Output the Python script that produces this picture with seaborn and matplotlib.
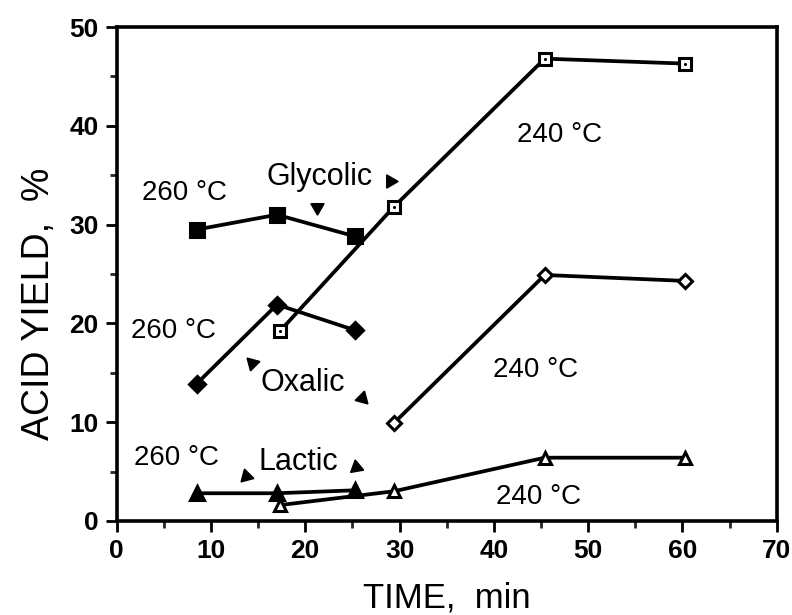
import matplotlib
matplotlib.use("Agg")
import matplotlib.pyplot as plt
import seaborn as sns
import pandas as pd
from matplotlib.ticker import MultipleLocator

# ---- data ----
t260 = [8.5, 17.0, 25.3]
t240 = [17.3, 29.4, 45.4, 60.3]
glycolic_260 = [29.5, 31.0, 28.8]
glycolic_240 = [19.2, 31.8, 46.8, 46.3]
oxalic_260 = [13.9, 21.9, 19.3]
oxalic_240 = [9.9, 24.9, 24.3]
t240_ox = [29.4, 45.4, 60.3]
lactic_260 = [2.8, 2.8, 3.1]
lactic_240 = [1.6, 3.0, 6.4, 6.4]

x_ticks = [0, 10, 20, 30, 40, 50, 60, 70]
y_ticks = [0, 10, 20, 30, 40, 50]

sns.set_theme(style="ticks")
plt.rcParams["font.family"] = ["Liberation Sans", "DejaVu Sans"]

fig = plt.figure(figsize=(7.92, 6.15), dpi=100)
ax = fig.add_axes([0.1473, 0.153, 0.8334, 0.803])

series = [
    (t260, glycolic_260, "s", "black", 10),
    (t240, glycolic_240, "s", "white", 9),
    (t260, oxalic_260, "D", "black", 8.5),
    (t240_ox, oxalic_240, "D", "white", 7),
    (t260, lactic_260, "^", "black", 10),
    (t240, lactic_240, "^", "white", 8.5),
]
for xs, ys, mk, fc, ms in series:
    df = pd.DataFrame({"t": xs, "y": ys})
    sns.lineplot(data=df, x="t", y="y", ax=ax, color="black", linewidth=2.7,
                 marker=mk, markersize=ms, markerfacecolor=fc,
                 markeredgecolor="black", markeredgewidth=2.2, zorder=3)
# small dots inside the open squares
sns.scatterplot(x=t240, y=glycolic_240, ax=ax, color="black", s=5,
                linewidth=0, zorder=5)

ax.set_xlim(x_ticks[0], x_ticks[-1])
ax.set_ylim(y_ticks[0], y_ticks[-1])
ax.set_xticks(x_ticks)
ax.set_yticks(y_ticks)
ax.xaxis.set_minor_locator(MultipleLocator(5))
ax.yaxis.set_minor_locator(MultipleLocator(5))
ax.tick_params(which="major", direction="out", length=8, width=2, labelsize=19,
               colors="black", pad=5)
ax.tick_params(which="minor", direction="out", length=5, width=2)
for lab in ax.get_xticklabels() + ax.get_yticklabels():
    lab.set_fontweight("bold")
for sp in ax.spines.values():
    sp.set_visible(True)
    sp.set_linewidth(2.6)
    sp.set_color("black")

ax.set_xlabel("TIME,  min", fontsize=25, color="black")
ax.set_ylabel("ACID YIELD,  %", fontsize=27, color="black")
ax.xaxis.set_label_coords(0.5, -0.122)
ax.yaxis.set_label_coords(-0.09, 0.44)

# ---- annotations ----
temps = [
    (7.2, 33.2, "260 °C"), (47.0, 39.1, "240 °C"),
    (6.0, 19.2, "260 °C"), (44.4, 15.3, "240 °C"),
    (6.3, 6.4, "260 °C"), (44.7, 2.4, "240 °C"),
]
for x, y, s in temps:
    ax.text(x, y, s, fontsize=20, ha="center", va="center", color="black")
names = [(21.5, 34.8, "Glycolic"), (19.7, 14.0, "Oxalic"), (19.3, 6.0, "Lactic")]
for x, y, s in names:
    ax.text(x, y, s, fontsize=22, ha="center", va="center", color="black")

# arrowheads: (x, y, angle of tip in degrees)
heads = [
    (29.0, 34.4, -90), (21.2, 31.8, 180),
    (14.3, 16.0, 45), (26.0, 12.4, -135),
    (13.7, 4.5, 135), (25.4, 5.5, -110),
]
for x, y, ang in heads:
    ax.plot(x, y, marker=(3, 0, ang), markersize=11, color="black",
            linestyle="none", zorder=4)

fig.savefig("out.png", dpi=100)
